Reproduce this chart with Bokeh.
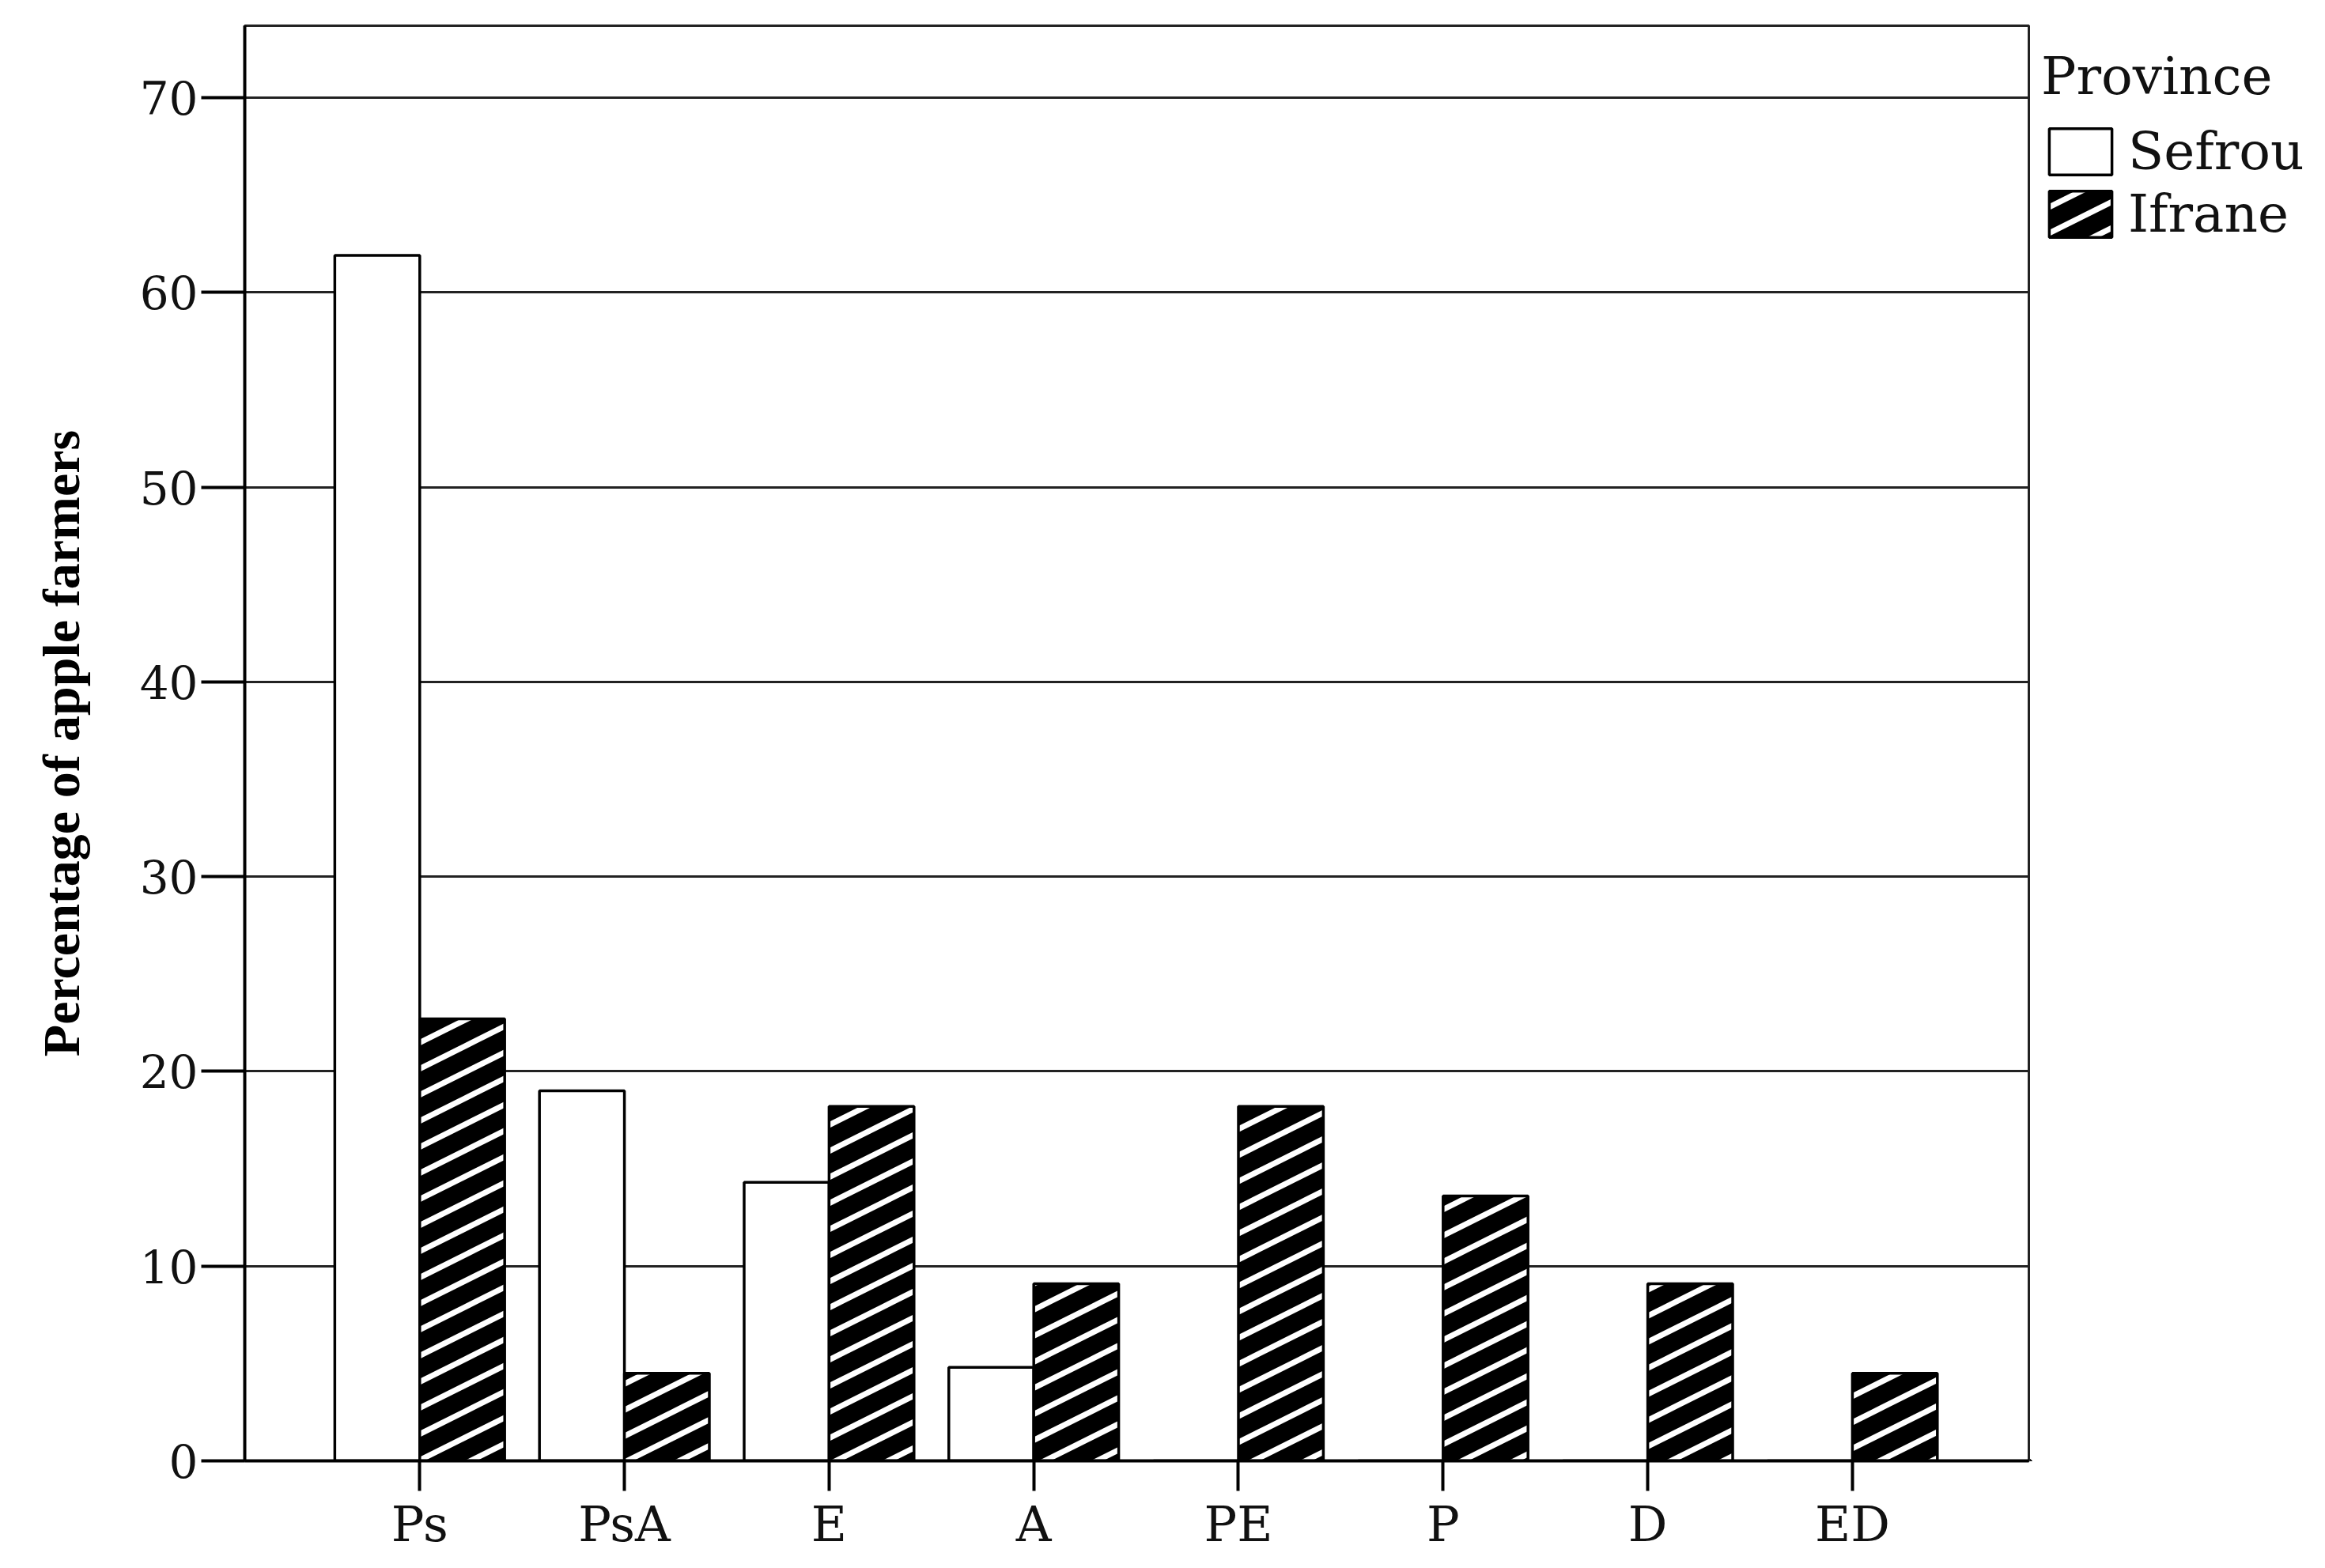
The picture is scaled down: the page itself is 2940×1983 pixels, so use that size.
import base64
from bokeh.plotting import figure
from bokeh.layouts import row
from bokeh.core.properties import value
from bokeh.models import (ColumnDataSource, Range1d, FixedTicker, Legend, LegendItem,
                          ImageURLTexture)
from bokeh.transform import dodge
from bokeh.embed import file_html
from bokeh.resources import INLINE

categories = ["Ps", "PsA", "E", "A", "PE", "P", "D", "ED"]
sefrou = [61.9, 19.0, 14.3, 4.8, 0.0, 0.0, 0.0, 0.0]
ifrane = [22.7, 4.5, 18.2, 9.1, 18.2, 13.6, 9.1, 4.5]
y_ticks = [0, 10, 20, 30, 40, 50, 60, 70]
series_names = ["Sefrou", "Ifrane"]
legend_title = "Province"

src = ColumnDataSource(dict(x=list(range(len(categories))), cat=categories,
                            sefrou=sefrou, ifrane=ifrane))

W, H = 2924, 1967
MAIN_W = 2567
TOP, BOTTOM = 32, 120
p = figure(width=MAIN_W, height=H, output_backend="svg", toolbar_location=None,
           x_range=Range1d(-0.855, 7.862), y_range=Range1d(0, 73.7),
           min_border_left=309, min_border_top=TOP, min_border_bottom=BOTTOM,
           min_border_right=2)

p.background_fill_color = "white"
p.border_fill_color = "white"
p.outline_line_color = "#222222"
p.outline_line_width = 3

# shallow "/" white stripes (slope 1/2) as a repeating tile
TILE = 66
segs = []
for k in range(-6, 9):
    c = k * TILE / 2
    segs.append(f"<line x1='{-TILE}' y1='{c + TILE / 2}' x2='{2 * TILE}' y2='{c - TILE}'/>")
tile_svg = (f"<svg xmlns='http://www.w3.org/2000/svg' width='{TILE}' height='{TILE}'>"
            f"<g stroke='white' stroke-width='7'>{''.join(segs)}</g></svg>")
tile_url = "data:image/svg+xml;base64," + base64.b64encode(tile_svg.encode()).decode()

def stripe_style():
    return dict(fill_color="black", line_color="black", line_width=3.5,
                hatch_extra={"stripe": ImageURLTexture(url=tile_url, repetition="repeat")},
                hatch_pattern=value("stripe"))

plain_style = dict(fill_color="white", line_color="black", line_width=3.5)

bw = 0.415
p.vbar(x=dodge("x", -bw / 2), top="sefrou", width=bw, source=src, **plain_style)
p.vbar(x=dodge("x", bw / 2), top="ifrane", width=bw, source=src, **stripe_style())

# grid
p.xgrid.grid_line_color = None
p.ygrid.grid_line_color = "#222222"
p.ygrid.grid_line_width = 3
p.ygrid.ticker = FixedTicker(ticks=y_ticks)

# y axis
ya = p.yaxis[0]
ya.ticker = FixedTicker(ticks=y_ticks)
ya.axis_line_color = "black"
ya.axis_line_width = 4
ya.major_tick_line_width = 4
ya.major_tick_out = 55
ya.major_tick_in = 0
ya.minor_tick_line_color = None
ya.major_label_text_font = "DejaVu Serif"
ya.major_label_text_font_size = "58px"
ya.major_label_text_color = "#111111"
ya.major_label_standoff = 4
ya.axis_label = "Percentage of apple farmers"
ya.axis_label_text_font = "Liberation Serif"
ya.axis_label_text_font_style = "bold"
ya.axis_label_text_font_size = "66px"
ya.axis_label_text_color = "black"
ya.axis_label_standoff = 60

# x axis
xa = p.xaxis[0]
xa.ticker = FixedTicker(ticks=list(range(len(categories))))
xa.major_label_overrides = {i: c for i, c in enumerate(categories)}
xa.axis_line_color = "black"
xa.axis_line_width = 4
xa.major_tick_line_width = 4
xa.major_tick_out = 38
xa.major_tick_in = 0
xa.minor_tick_line_color = None
xa.major_label_text_font = "DejaVu Serif"
xa.major_label_text_font_size = "62px"
xa.major_label_text_color = "#111111"
xa.major_label_standoff = 5

# legend panel on the right (its own figure so nothing is clipped);
# its renderers use the same data but its ranges keep them out of view
lf = figure(width=W - MAIN_W, height=H, output_backend="svg", toolbar_location=None,
            x_axis_type=None, y_axis_type=None,
            x_range=Range1d(100, 101), y_range=Range1d(100, 101),
            min_border_left=0, min_border_top=TOP, min_border_right=0,
            min_border_bottom=BOTTOM)
lf.outline_line_color = None
lf.background_fill_color = "white"
lf.border_fill_color = "white"
d1 = lf.vbar(x=dodge("x", -bw / 2), top="sefrou", width=bw, source=src, **plain_style)
d2 = lf.vbar(x=dodge("x", bw / 2), top="ifrane", width=bw, source=src, **stripe_style())

legend = Legend(items=[LegendItem(label=series_names[0], renderers=[d1]),
                       LegendItem(label=series_names[1], renderers=[d2])],
                location=(14, 1538), title=legend_title)
legend.title_text_font = "DejaVu Serif"
legend.title_text_font_size = "66px"
legend.title_text_font_style = "normal"
legend.title_text_color = "#111111"
legend.title_standoff = 18
legend.label_text_font = "DejaVu Serif"
legend.label_text_font_size = "66px"
legend.label_text_color = "#111111"
legend.glyph_width = 99
legend.glyph_height = 73
legend.label_height = 73
legend.label_standoff = 11
legend.spacing = 2
legend.padding = 8
legend.margin = 0
legend.border_line_color = None
legend.background_fill_alpha = 0
lf.add_layout(legend)

layout = row(p, lf, spacing=0)
open("out.html", "w").write(file_html(layout, INLINE))
